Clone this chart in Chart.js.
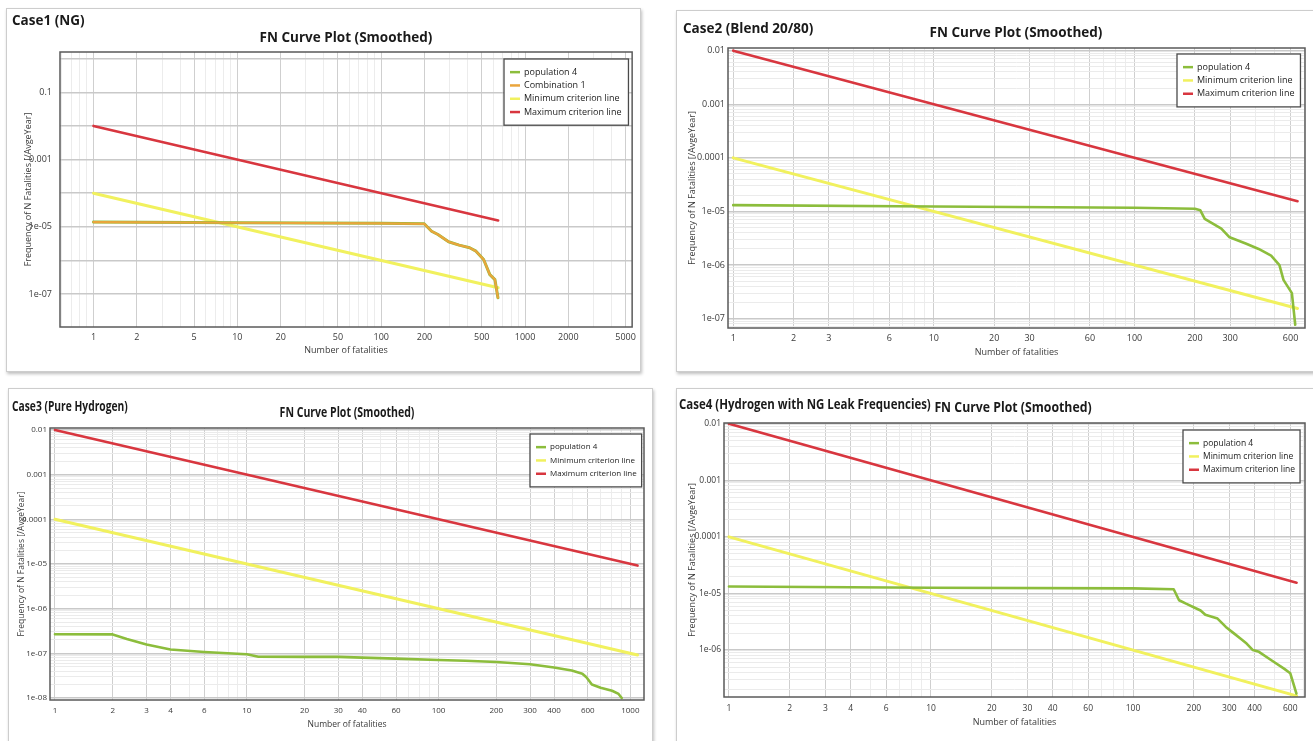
<!DOCTYPE html>
<html lang="en">
  <head>
    <meta charset="utf-8" />
    <title>FN Curve Plot (Smoothed) - four cases</title>
    <style>
      * {
        margin: 0;
        padding: 0;
      }
      body {
        width: 1313px;
        height: 741px;
        position: relative;
        overflow: hidden;
        background: #fff;
        font-family: "Open Sans", sans-serif;
      }
      .frame {
        position: absolute;
        border: 1px solid #cdcdcd;
        box-shadow: 1px 2px 3px rgba(0, 0, 0, 0.25);
        background: #fff;
      }
      .caseLabel {
        position: absolute;
        font-weight: bold;
        font-size: 13.5px;
        color: #1a1a1a;
        white-space: nowrap;
        transform-origin: left center;
      }
      .plotTitle {
        position: absolute;
        font-weight: bold;
        font-size: 13.5px;
        color: #1a1a1a;
        white-space: nowrap;
      }
      canvas {
        position: absolute;
      }
    </style>
  </head>
  <body>
    <div class="frame" style="left:6px;top:8px;width:633px;height:362px"></div>
    <div class="frame" style="left:676px;top:10px;width:640px;height:360px"></div>
    <div class="frame" style="left:8px;top:388px;width:643px;height:360px"></div>
    <div class="frame" style="left:676px;top:388px;width:640px;height:360px"></div>

    <canvas id="chart1" width="635" height="364" style="left:6px;top:8px"></canvas>
    <canvas id="chart2" width="637" height="362" style="left:676px;top:10px"></canvas>
    <canvas id="chart3" width="645" height="353" style="left:8px;top:388px"></canvas>
    <canvas id="chart4" width="637" height="353" style="left:676px;top:388px"></canvas>

    <div class="caseLabel" style="left:12px;top:20px;transform:translateY(-50%)">Case1 (NG)</div>
    <div class="plotTitle" style="left:346px;top:37px;transform:translate(-50%,-50%)">FN Curve Plot (Smoothed)</div>
    <div class="caseLabel" style="left:683px;top:28px;transform:translateY(-50%)">Case2 (Blend 20/80)</div>
    <div class="plotTitle" style="left:1016px;top:32px;transform:translate(-50%,-50%)">FN Curve Plot (Smoothed)</div>
    <div class="caseLabel" style="left:12px;top:406px;transform:translateY(-50%) scaleX(0.76)">Case3 (Pure Hydrogen)</div>
    <div class="plotTitle" style="left:347px;top:412px;transform:translate(-50%,-50%) scaleX(0.78)">FN Curve Plot (Smoothed)</div>
    <div class="caseLabel" style="left:679px;top:404px;transform:translateY(-50%) scaleX(0.85)">Case4 (Hydrogen with NG Leak Frequencies)</div>
    <div class="plotTitle" style="left:1013px;top:407px;transform:translate(-50%,-50%) scaleX(0.91)">FN Curve Plot (Smoothed)</div>

    <script src="https://cdn.jsdelivr.net/npm/chart.js"></script>

    <script>
      // ---- data ----
      // Case 1 (NG): population 4 / Combination 1 (same curve)
      const case1N = [1, 10, 100, 199, 224, 248, 294, 348, 412, 456, 515, 569, 617, 648];
      const case1F = [1.38e-5, 1.32e-5, 1.27e-5, 1.23e-5, 7.4e-6, 5.9e-6, 3.6e-6, 2.85e-6, 2.38e-6, 1.89e-6, 1.07e-6, 3.8e-7, 2.7e-7, 7.8e-8];
      const case1CritN = [1, 650];
      const case1Max = [0.01, 1.55e-5];
      const case1Min = [1e-4, 1.55e-7];

      // Case 2 (Blend 20/80)
      const case2N = [1, 10, 100, 200, 213, 224, 271, 298, 361, 416, 480, 528, 553, 609, 633];
      const case2F = [1.31e-5, 1.24e-5, 1.17e-5, 1.12e-5, 1.05e-5, 7.3e-6, 4.8e-6, 3.3e-6, 2.5e-6, 2.0e-6, 1.5e-6, 1.0e-6, 5.3e-7, 3.0e-7, 7.7e-8];
      const case2CritN = [1, 650];
      const case2Max = [0.01, 1.55e-5];
      const case2Min = [1e-4, 1.55e-7];

      // Case 3 (Pure Hydrogen)
      const case3N = [1, 2, 2.37, 3, 4, 6, 10, 11.5, 20, 30, 40, 60, 100, 138, 200, 300, 400, 495, 562, 590, 630, 700, 803, 868, 902];
      const case3F = [2.68e-7, 2.65e-7, 2.1e-7, 1.58e-7, 1.22e-7, 1.07e-7, 9.5e-8, 8.4e-8, 8.3e-8, 8.3e-8, 8.0e-8, 7.6e-8, 7.1e-8, 6.8e-8, 6.4e-8, 5.7e-8, 4.8e-8, 4.1e-8, 3.5e-8, 2.9e-8, 2.0e-8, 1.7e-8, 1.45e-8, 1.23e-8, 1.0e-8];
      const case3CritN = [1, 1090];
      const case3Max = [0.01, 9.2e-6];
      const case3Min = [1e-4, 9.2e-8];

      // Case 4 (Hydrogen with NG leak frequencies)
      const case4N = [1, 10, 100, 159, 169, 183, 202, 216, 228, 262, 288, 317, 340, 365, 392, 420, 484, 559, 600, 644];
      const case4F = [1.33e-5, 1.26e-5, 1.23e-5, 1.19e-5, 7.6e-6, 6.6e-6, 5.6e-6, 5.0e-6, 4.2e-6, 3.6e-6, 2.56e-6, 1.95e-6, 1.6e-6, 1.3e-6, 1.0e-6, 9.3e-7, 6.6e-7, 4.7e-7, 3.9e-7, 1.7e-7];
      const case4CritN = [1, 645];
      const case4Max = [0.01, 1.55e-5];
      const case4Min = [1e-4, 1.55e-7];

      // tick labels shown on each axis
      const case1XTicks = [1, 2, 5, 10, 20, 50, 100, 200, 500, 1000, 2000, 5000];
      const case1YTicks = [0.1, 0.001, 1e-5, 1e-7];
      const case2XTicks = [1, 2, 3, 6, 10, 20, 30, 60, 100, 200, 300, 600];
      const case2YTicks = [0.01, 0.001, 1e-4, 1e-5, 1e-6, 1e-7];
      const case3XTicks = [1, 2, 3, 4, 6, 10, 20, 30, 40, 60, 100, 200, 300, 400, 600, 1000];
      const case3YTicks = [0.01, 0.001, 1e-4, 1e-5, 1e-6, 1e-7, 1e-8];
      const case4XTicks = [1, 2, 3, 4, 6, 10, 20, 30, 40, 60, 100, 200, 300, 400, 600];
      const case4YTicks = [0.01, 0.001, 1e-4, 1e-5, 1e-6];

      const GREEN = "#8cbd3c";
      const ORANGE = "#eaa53c";
      const YELLOW = "#f1f15e";
      const RED = "#d8363f";

      Chart.defaults.font.family = '"Open Sans", sans-serif';
      Chart.defaults.color = "#333";

      function pts(xs, ys) {
        return xs.map((x, i) => ({ x: x, y: ys[i] }));
      }

      // all 1..9 x 10^k values inside the range (gridlines)
      function logGrid(min, max, decadesOnly) {
        const out = [];
        for (let k = Math.floor(Math.log10(min)); k <= Math.ceil(Math.log10(max)); k++) {
          for (let m = 1; m <= (decadesOnly ? 1 : 9); m++) {
            const v = m * Math.pow(10, k);
            if (v >= min && v <= max) out.push(v);
          }
        }
        return out;
      }
      const same = (a, b) => Math.abs(Math.log10(a) - Math.log10(b)) < 1e-6;
      const inList = (v, list) => list.some((t) => same(v, t));
      const isDecade = (v) => Math.abs(Math.log10(v) - Math.round(Math.log10(v))) < 1e-6;

      function fmtY(v) {
        if (v >= 1e-4) return String(v);
        const e = Math.round(-Math.log10(v));
        return "1e-" + String(e).padStart(2, "0");
      }

      // plot frame drawn around the chart area
      const plotBorder = {
        id: "plotBorder",
        afterDatasetsDraw(chart) {
          const { ctx, chartArea: a } = chart;
          ctx.save();
          ctx.strokeStyle = "#5a5a5a";
          ctx.lineWidth = 1.5;
          ctx.strokeRect(a.left, a.top, a.right - a.left, a.bottom - a.top);
          ctx.restore();
        },
      };

      // boxed legend in the top right corner of the plot
      const boxLegend = {
        id: "boxLegend",
        afterDraw(chart, args, opts) {
          const { ctx, chartArea } = chart;
          const items = chart.data.datasets;
          ctx.save();
          ctx.font = opts.font;
          const textW = Math.max(...items.map((d) => ctx.measureText(d.label).width));
          const w = opts.textX + textW + opts.padRight;
          const h = items.length * opts.rowH + opts.padV * 2;
          const x = Math.round(chartArea.right - opts.marginRight - w);
          const y = Math.round(chartArea.top + opts.marginTop);
          ctx.fillStyle = "#fff";
          ctx.fillRect(x, y, w, h);
          ctx.strokeStyle = "#4a4a4a";
          ctx.lineWidth = 1.3;
          ctx.strokeRect(x, y, w, h);
          items.forEach((d, i) => {
            const cy = y + opts.padV + opts.rowH * (i + 0.5);
            ctx.strokeStyle = d.borderColor;
            ctx.lineWidth = 2.5;
            ctx.beginPath();
            ctx.moveTo(x + opts.sampleX, cy);
            ctx.lineTo(x + opts.sampleX + opts.sampleW, cy);
            ctx.stroke();
            ctx.fillStyle = "#222";
            ctx.textBaseline = "middle";
            ctx.fillText(d.label, x + opts.textX, cy);
          });
          ctx.restore();
        },
      };

      function makeChart(id, datasets, p) {
        const xGrid = logGrid(p.xMin, p.xMax, false);
        const yGrid = logGrid(p.yMin, p.yMax, p.yDecadesOnly);
        const tickFont = { size: p.tickSize };
        const titleFont = { size: p.titleSize };
        return new Chart(document.getElementById(id), {
          type: "line",
          data: { datasets },
          options: {
            responsive: false,
            animation: false,
            devicePixelRatio: 1,
            layout: { padding: { left: 0, top: p.top, right: p.right, bottom: 0 } },
            elements: {
              point: { radius: 0 },
              line: { tension: 0, borderJoinStyle: "round", borderCapStyle: "round" },
            },
            plugins: {
              legend: { display: false },
              tooltip: { enabled: false },
              boxLegend: p.legend,
            },
            scales: {
              x: {
                type: "logarithmic",
                min: p.xMin,
                max: p.xMax,
                afterBuildTicks(s) {
                  s.ticks = xGrid.map((v) => ({ value: v }));
                },
                afterFit(s) {
                  s.height = p.xAxisH;
                },
                ticks: {
                  autoSkip: false,
                  maxRotation: 0,
                  padding: p.xTickPad,
                  font: tickFont,
                  color: "#3a3a3a",
                  callback: (v) => (inList(v, p.xTicks) ? String(v) : ""),
                },
                grid: {
                  drawTicks: false,
                  color: (c) => (c.tick && (inList(c.tick.value, p.xTicks) || isDecade(c.tick.value)) ? "#cfcfcf" : "#ececec"),
                },
                border: { display: false },
                title: {
                  display: true,
                  text: "Number of fatalities",
                  font: titleFont,
                  color: "#3a3a3a",
                  padding: { top: 0, bottom: p.xTitlePad },
                },
              },
              y: {
                type: "logarithmic",
                min: p.yMin,
                max: p.yMax,
                afterBuildTicks(s) {
                  s.ticks = yGrid.map((v) => ({ value: v }));
                },
                afterFit(s) {
                  s.width = p.yAxisW;
                },
                ticks: {
                  autoSkip: false,
                  padding: p.yTickPad,
                  font: tickFont,
                  color: "#3a3a3a",
                  callback: (v) => (inList(v, p.yTicks) ? fmtY(v) : ""),
                },
                grid: {
                  drawTicks: false,
                  color: (c) => (c.tick && isDecade(c.tick.value) ? "#c9c9c9" : "#ebebeb"),
                  lineWidth: (c) => (c.tick && isDecade(c.tick.value) ? 1.4 : 1),
                },
                border: { display: false },
                title: {
                  display: true,
                  text: "Frequency of N Fatalities [/AvgeYear]",
                  font: titleFont,
                  color: "#3a3a3a",
                  padding: { top: p.yTitlePad, bottom: 0 },
                },
              },
            },
          },
          plugins: [plotBorder, boxLegend],
        });
      }

      function critSets(n, mn, mx) {
        return [
          { label: "Minimum criterion line", data: pts(n, mn), borderColor: YELLOW, borderWidth: 3, order: 2 },
          { label: "Maximum criterion line", data: pts(n, mx), borderColor: RED, borderWidth: 2.6, order: 3 },
        ];
      }

      function legendOpts(font, marginTop, marginRight, padRight) {
        return { font, rowH: 13.3, padV: 6.5, sampleX: 6, sampleW: 10, textX: 20, padRight, marginTop, marginRight };
      }

      // Case 1
      makeChart(
        "chart1",
        [
          { label: "population 4", data: pts(case1N, case1F), borderColor: GREEN, borderWidth: 3, order: 1 },
          { label: "Combination 1", data: pts(case1N, case1F), borderColor: ORANGE, borderWidth: 2.2, order: 0 },
          ...critSets(case1CritN, case1Min, case1Max),
        ],
        {
          xMin: 0.585, xMax: 5550, yMin: 1.05e-8, yMax: 1.58, yDecadesOnly: true,
          xTicks: case1XTicks, yTicks: case1YTicks,
          top: 44, right: 8, xAxisH: 45, yAxisW: 54,
          tickSize: 9, titleSize: 9, xTickPad: 5, yTickPad: 8, xTitlePad: 16, yTitlePad: 17,
          legend: legendOpts('9px "Open Sans"', 7, 4, 7),
        }
      );

      // Case 2
      makeChart(
        "chart2",
        [
          { label: "population 4", data: pts(case2N, case2F), borderColor: GREEN, borderWidth: 2.6, order: 1 },
          ...critSets(case2CritN, case2Min, case2Max),
        ],
        {
          xMin: 0.942, xMax: 708, yMin: 6.7e-8, yMax: 0.0112, yDecadesOnly: false,
          xTicks: case2XTicks, yTicks: case2YTicks,
          top: 38, right: 8, xAxisH: 44, yAxisW: 52,
          tickSize: 9, titleSize: 9, xTickPad: 5, yTickPad: 3, xTitlePad: 14, yTitlePad: 11,
          legend: legendOpts('9px "Open Sans"', 6, 5, 6),
        }
      );

      // Case 3
      makeChart(
        "chart3",
        [
          { label: "population 4", data: pts(case3N, case3F), borderColor: GREEN, borderWidth: 2.6, order: 1 },
          ...critSets(case3CritN, case3Min, case3Max),
        ],
        {
          xMin: 0.942, xMax: 1178, yMin: 9.35e-9, yMax: 0.0111, yDecadesOnly: false,
          xTicks: case3XTicks, yTicks: case3YTicks,
          top: 40, right: 9, xAxisH: 41, yAxisW: 42,
          tickSize: 8, titleSize: 8.5, xTickPad: 6, yTickPad: 3, xTitlePad: 11, yTitlePad: 8,
          legend: legendOpts('8px "Open Sans"', 6, 2, 5),
        }
      );

      // Case 4
      makeChart(
        "chart4",
        [
          { label: "population 4", data: pts(case4N, case4F), borderColor: GREEN, borderWidth: 2.6, order: 1 },
          ...critSets(case4CritN, case4Min, case4Max),
        ],
        {
          xMin: 0.945, xMax: 710, yMin: 1.48e-7, yMax: 0.0103, yDecadesOnly: false,
          xTicks: case4XTicks, yTicks: case4YTicks,
          top: 35, right: 8, xAxisH: 44, yAxisW: 48,
          tickSize: 8.5, titleSize: 9, xTickPad: 6, yTickPad: 3, xTitlePad: 13, yTitlePad: 11,
          legend: legendOpts('8.5px "Open Sans"', 7, 5, 5),
        }
      );
    </script>
  </body>
</html>
